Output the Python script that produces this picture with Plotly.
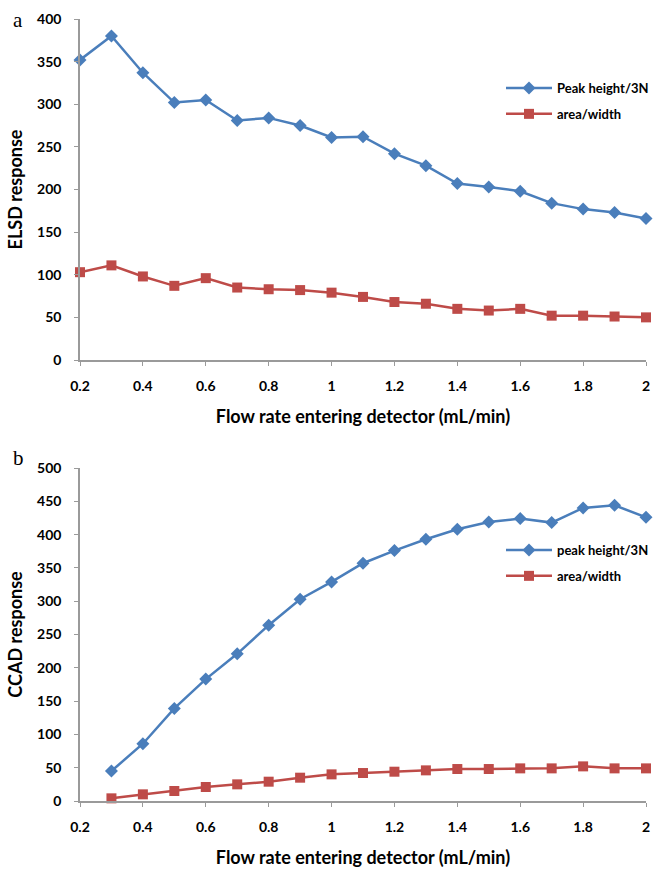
import plotly.graph_objects as go

# Panel a data (ELSD)
flow_a = [0.2, 0.3, 0.4, 0.5, 0.6, 0.7, 0.8, 0.9, 1.0, 1.1, 1.2, 1.3, 1.4, 1.5, 1.6, 1.7, 1.8, 1.9, 2.0]
elsd_peak = [352, 380, 337, 302, 305, 281, 284, 275, 261, 262, 242, 228, 207, 203, 198, 184, 177, 173, 166]
elsd_area = [103, 111, 98, 87, 96, 85, 83, 82, 79, 74, 68, 66, 60, 58, 60, 52, 52, 51, 50]

# Panel b data (CCAD)
flow_b = [0.3, 0.4, 0.5, 0.6, 0.7, 0.8, 0.9, 1.0, 1.1, 1.2, 1.3, 1.4, 1.5, 1.6, 1.7, 1.8, 1.9, 2.0]
ccad_peak = [45, 86, 139, 183, 221, 264, 303, 329, 357, 376, 393, 408, 419, 424, 418, 440, 444, 426]
ccad_area = [4, 10, 15, 21, 25, 29, 35, 40, 42, 44, 46, 48, 48, 49, 49, 52, 49, 49]

x_ticks = [0.2, 0.4, 0.6, 0.8, 1.0, 1.2, 1.4, 1.6, 1.8, 2.0]
x_ticklabels = ["0.2", "0.4", "0.6", "0.8", "1", "1.2", "1.4", "1.6", "1.8", "2"]

BLUE = "#4A7EBB"
RED = "#BE4B48"
AXIS = "#9A9A9A"
FONT = "Lato"

fig = go.Figure()

def add(x, y, name, color, symbol, size, xa, ya, legend, group):
    fig.add_trace(go.Scatter(
        x=x, y=y, name=name, mode="lines+markers",
        line=dict(color=color, width=2.5),
        marker=dict(symbol=symbol, size=size, color=color),
        xaxis=xa, yaxis=ya, legend=legend, legendgroup=group, cliponaxis=False))

add(flow_a, elsd_peak, "Peak height/3N", BLUE, "diamond", 10, "x", "y", "legend", "a1")
add(flow_a, elsd_area, "area/width", RED, "square", 10, "x", "y", "legend", "a2")
add(flow_b, ccad_peak, "peak height/3N", BLUE, "diamond", 10, "x2", "y2", "legend2", "b1")
add(flow_b, ccad_area, "area/width", RED, "square", 10, "x2", "y2", "legend2", "b2")

W, H = 654, 870
xdom = [80 / W, 646 / W]
ydom_a = [1 - 360 / H, 1 - 19 / H]
ydom_b = [1 - 801 / H, 1 - 468 / H]

tickfont = dict(family=FONT, size=14, color="#000", weight="bold")
titlefont = dict(family=FONT, size=18, color="#000", weight="bold")

def xaxis(domain, anchor):
    return dict(domain=domain, anchor=anchor, range=[0.2, 2.0],
                tickvals=x_ticks, ticktext=x_ticklabels,
                showline=True, linecolor=AXIS, linewidth=1.5,
                ticks="outside", ticklen=4, tickcolor=AXIS,
                ticklabelstandoff=8, automargin=False,
                showgrid=False, zeroline=False, tickfont=tickfont,
                title=dict(text="Flow rate entering detector (mL/min)", font=titlefont, standoff=18))

def yaxis(domain, anchor, rng, dtick, title):
    return dict(domain=domain, anchor=anchor, range=rng, dtick=dtick,
                showline=True, linecolor=AXIS, linewidth=1.5,
                ticks="outside", ticklen=4, tickcolor=AXIS,
                ticklabelstandoff=10, automargin=False,
                showgrid=False, zeroline=False, tickfont=tickfont,
                title=dict(text=title, font=titlefont, standoff=10))

legfont = dict(family=FONT, size=13, color="#000", weight="bold")

fig.update_layout(
    width=W, height=H,
    margin=dict(l=0, r=0, t=0, b=0, autoexpand=False),
    paper_bgcolor="white", plot_bgcolor="white",
    font=dict(family=FONT, color="#000"),
    xaxis=xaxis(xdom, "y"),
    yaxis=yaxis(ydom_a, "x", [0, 400], 50, "ELSD response"),
    xaxis2=xaxis(xdom, "y2"),
    yaxis2=yaxis(ydom_b, "x2", [0, 500], 50, "CCAD response"),
    legend=dict(x=1.0, y=1 - 73 / H, xanchor="right", yanchor="top",
                font=legfont, bgcolor="rgba(0,0,0,0)", itemwidth=46, tracegroupgap=6),
    legend2=dict(x=1.0, y=1 - 535 / H, xanchor="right", yanchor="top",
                 font=legfont, bgcolor="rgba(0,0,0,0)", itemwidth=46, tracegroupgap=6),
    annotations=[
        dict(text="a", x=18 / W, y=1 - 20 / H, xref="paper", yref="paper",
             xanchor="center", yanchor="middle",
             showarrow=False, font=dict(family="Liberation Serif", size=21, color="#000")),
        dict(text="b", x=18 / W, y=1 - 458 / H, xref="paper", yref="paper",
             xanchor="center", yanchor="middle",
             showarrow=False, font=dict(family="Liberation Serif", size=21, color="#000")),
    ],
)

fig.write_html("out.html")
